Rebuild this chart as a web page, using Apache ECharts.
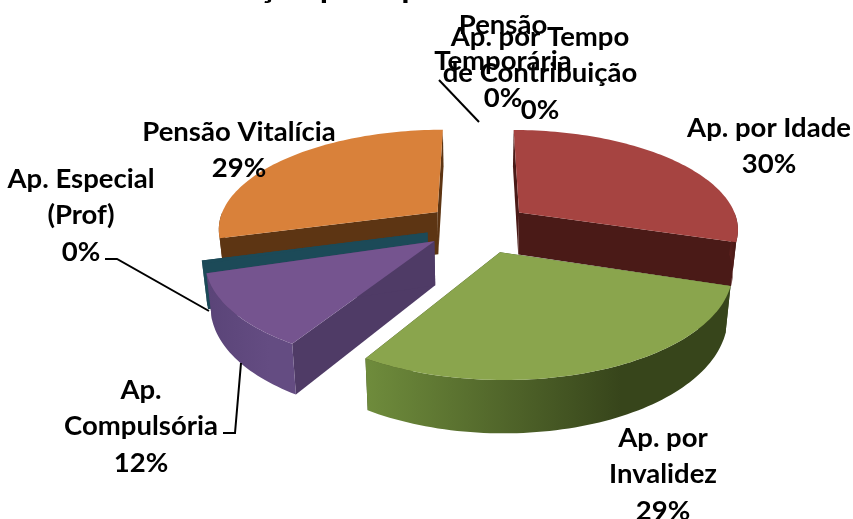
<!DOCTYPE html>
<html>
<head>
<meta charset="utf-8">
<style>html,body{margin:0;padding:0;background:#fff}#main{width:853px;height:519px}</style>
<script src="https://cdn.jsdelivr.net/npm/echarts@6/dist/echarts.min.js"></script>
</head>
<body>
<div id="main"></div>
<script>
// dados
var categories = ['Ap. por Idade', 'Ap. por Invalidez', 'Ap. Compulsória', 'Ap. Especial (Prof)', 'Pensão Vitalícia', 'Pensão Temporária', 'Ap. por Tempo de Contribuição'];
var values = [30, 29, 11.6, 0.5, 29.4, 0, 0];
var labelLines = [
  ['Ap. por Idade'],
  ['Ap. por', 'Invalidez'],
  ['Ap.', 'Compulsória'],
  ['Ap. Especial', '(Prof)'],
  ['Pensão Vitalícia'],
  ['Pensão', 'Temporária'],
  ['Ap. por Tempo', 'de Contribuição']
];

// aparencia
var topColors = ['#a64441', '#8aa54d', '#75548f', '#1c4a58', '#d9813a', '#999', '#999'];
var cutColors = ['#4a1a17', '#37451b', '#4f3b66', '#1c4a58', '#5d3513', '#999', '#999'];
var wallColors = [
  ['#5a201d', '#4a1a17'],
  ['#6f8c3c', '#37451b'],
  ['#5a4478', '#644c82'],
  ['#1c4a58', '#1c4a58'],
  ['#5d3513', '#5d3513'],
  ['#999', '#999'],
  ['#999', '#999']
];
var drawOrder = [0, 4, 3, 2, 1, 5, 6];
var labelPos = [[769, 128], [663, 438], [141, 390], [81, 179], [239, 132], [503, 25], [540, 37]];
var leaders = [
  [[105, 259], [117, 259], [209, 311]],
  [[223, 433], [235, 433], [241, 363]],
  [[439, 80], [479, 122]]
];

// geometria do pie em perspectiva
var cx = 478, cy = 226, R = 220, tilt = 0.45, persp = 0.0007, depth = 43, shrink = 0.98;
var explode = [52, 60, 54, 52, 52, 52, 52];

var total = values.reduce(function (a, b) { return a + b; }, 0);
var angles = [];
var acc = 0;
values.forEach(function (v) {
  var start = acc / total * Math.PI * 2;
  acc += v;
  angles.push([start, acc / total * Math.PI * 2]);
});

function project(idx, theta, r, low) {
  var mid = (angles[idx][0] + angles[idx][1]) / 2;
  var e = explode[idx];
  var u = r * Math.sin(theta) + e * Math.sin(mid);
  var v = -r * Math.cos(theta) - e * Math.cos(mid);
  var s = 1 / (1 - persp * v);
  var x = cx + u * s;
  var y = cy + v * tilt * s;
  if (low) {
    x = cx + (x - cx) * shrink;
    y += depth * s;
  }
  return [x, y];
}

function arcPoints(idx, a0, a1, low) {
  var pts = [];
  var n = Math.max(2, Math.ceil((a1 - a0) * 40));
  for (var i = 0; i <= n; i++) {
    pts.push(project(idx, a0 + (a1 - a0) * i / n, R, low));
  }
  return pts;
}

function poly(pts, fill, z2) {
  return { type: 'polygon', shape: { points: pts }, style: { fill: fill }, z2: z2 };
}

function renderSlice(params, api) {
  var idx = api.value(0);
  if (values[idx] <= 0) return { type: 'group', children: [] };
  var a0 = angles[idx][0], a1 = angles[idx][1];
  var z = drawOrder.indexOf(idx) * 10;
  var kids = [];
  var apexTop = project(idx, 0, 0, false);
  var apexLow = project(idx, 0, 0, true);

  // faces do corte
  [a0, a1].forEach(function (a) {
    kids.push(poly([apexTop, project(idx, a, R, false), project(idx, a, R, true), apexLow], cutColors[idx], z));
  });

  // parede externa, so a parte virada para frente
  var w0 = Math.max(a0, Math.PI / 2), w1 = Math.min(a1, Math.PI * 1.5);
  if (w1 > w0) {
    var wall = arcPoints(idx, w0, w1, false).concat(arcPoints(idx, w0, w1, true).reverse());
    var grad = new echarts.graphic.LinearGradient(0, 0, 1, 0, [
      { offset: 0, color: wallColors[idx][0] },
      { offset: 0.7, color: wallColors[idx][1] },
      { offset: 1, color: wallColors[idx][1] }
    ]);
    kids.push(poly(wall, grad, z + 1));
  }

  // tampo
  kids.push(poly([apexTop].concat(arcPoints(idx, a0, a1, false)), topColors[idx], z + 2));
  return { type: 'group', children: kids };
}

var graphics = [];
categories.forEach(function (c, i) {
  var pct = Math.round(values[i] / total * 100) + '%';
  var lines = labelLines[i].concat([pct]);
  lines.forEach(function (t, j) {
    graphics.push({
      type: 'text', x: labelPos[i][0], y: labelPos[i][1] + j * 36.5, z: 20,
      style: { text: t, fill: '#000', font: 'bold 27.5px Lato', textAlign: 'center', textVerticalAlign: 'middle' }
    });
  });
});
leaders.forEach(function (pts) {
  graphics.push({
    type: 'polyline', z: 20,
    shape: { points: pts },
    style: { stroke: '#000', lineWidth: 2, fill: null }
  });
});

var chart = echarts.init(document.getElementById('main'));
chart.setOption({
  animation: false,
  title: {
    text: 'Distribuição por tipo',
    left: 123,
    top: -36,
    textStyle: { fontFamily: 'Lato', fontWeight: 'bold', fontSize: 34, color: '#000' }
  },
  graphic: graphics,
  series: [{
    type: 'custom',
    coordinateSystem: 'none',
    renderItem: renderSlice,
    data: values.map(function (v, i) { return [i, v]; })
  }]
});
</script>
</body>
</html>
